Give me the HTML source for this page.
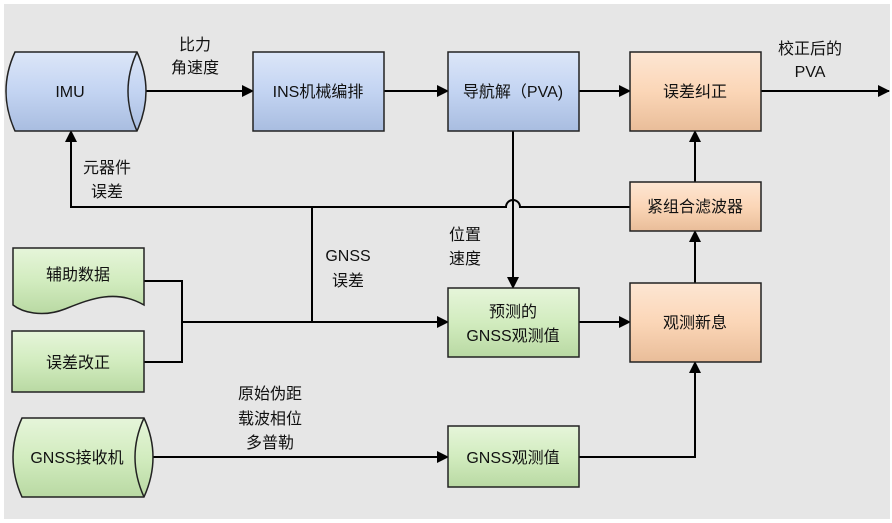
<!DOCTYPE html>
<html><head><meta charset="utf-8"><style>
html,body{margin:0;padding:0;background:#fff;}
svg{display:block;}
text{font-family:"Liberation Sans","Noto Sans CJK SC",sans-serif;font-size:16px;fill:#111;}
</style></head><body>
<svg width="892" height="523" viewBox="0 0 892 523" xmlns="http://www.w3.org/2000/svg">
<defs>
<marker id="a" markerWidth="12" markerHeight="12" refX="11" refY="6" orient="auto" markerUnits="userSpaceOnUse">
<path d="M0,0 L12,6 L0,12 Z" fill="#000"/></marker>
<linearGradient id="gb" x1="0" y1="0" x2="0" y2="1"><stop offset="0" stop-color="#dce6f8"/><stop offset="0.5" stop-color="#c3d4f2"/><stop offset="1" stop-color="#a9bde0"/></linearGradient>
<linearGradient id="gg" x1="0" y1="0" x2="0" y2="1"><stop offset="0" stop-color="#e6f5da"/><stop offset="0.5" stop-color="#d2ecbf"/><stop offset="1" stop-color="#b9d9a3"/></linearGradient>
<linearGradient id="go" x1="0" y1="0" x2="0" y2="1"><stop offset="0" stop-color="#fde6d3"/><stop offset="0.5" stop-color="#fbd6b7"/><stop offset="1" stop-color="#e9bd99"/></linearGradient>
</defs>
<rect x="4" y="4" width="886" height="515" fill="#e6e6e6"/>

<g stroke="#000" stroke-width="2" fill="none">
<line x1="136" y1="91" x2="253" y2="91" marker-end="url(#a)"/>
<line x1="384" y1="91" x2="448" y2="91" marker-end="url(#a)"/>
<line x1="579" y1="91" x2="630" y2="91" marker-end="url(#a)"/>
<line x1="761" y1="91" x2="889" y2="91" marker-end="url(#a)"/>
<line x1="695" y1="182" x2="695" y2="131" marker-end="url(#a)"/>
<line x1="695" y1="283" x2="695" y2="231" marker-end="url(#a)"/>
<path d="M579,457 H695 V362" marker-end="url(#a)"/>
<line x1="579" y1="322" x2="630" y2="322" marker-end="url(#a)"/>
<line x1="513" y1="131" x2="513" y2="288" marker-end="url(#a)"/>
<path d="M630,207 H520 A7,7 0 0 0 506,207 H71 V131" marker-end="url(#a)"/>
<line x1="312" y1="207" x2="312" y2="322"/>
<path d="M144,281 H182 V362 H144"/>
<line x1="182" y1="322" x2="448" y2="322" marker-end="url(#a)"/>
<line x1="153" y1="457" x2="448" y2="457" marker-end="url(#a)"/>
</g>

<path d="M15,52 H137 Q155,91 137,131 H15 Q-3,91 15,52 Z" fill="url(#gb)" stroke="#222" stroke-width="1.5"/>
<path d="M137,52 Q119,91 137,131" fill="none" stroke="#222" stroke-width="1.5"/>
<text x="70" y="97" text-anchor="middle">IMU</text>

<path d="M22,418 H144 Q162,457 144,497 H22 Q4,457 22,418 Z" fill="url(#gg)" stroke="#222" stroke-width="1.5"/>
<path d="M144,418 Q126,457 144,497" fill="none" stroke="#222" stroke-width="1.5"/>
<text x="77" y="463" text-anchor="middle">GNSS接收机</text>

<path d="M13,248 H144 V305 C115,288 88,300 65,309 C42,318 22,312 13,305 Z" fill="url(#gg)" stroke="#222" stroke-width="1.5"/>
<text x="78" y="280" text-anchor="middle">辅助数据</text>

<g stroke="#222" stroke-width="1.5">
<rect x="12" y="331" width="132" height="61" fill="url(#gg)"/>
<rect x="253" y="52" width="131" height="79" fill="url(#gb)"/>
<rect x="448" y="52" width="131" height="79" fill="url(#gb)"/>
<rect x="630" y="52" width="131" height="79" fill="url(#go)"/>
<rect x="630" y="182" width="131" height="49" fill="url(#go)"/>
<rect x="630" y="283" width="131" height="79" fill="url(#go)"/>
<rect x="448" y="288" width="131" height="69" fill="url(#gg)"/>
<rect x="448" y="426" width="131" height="61" fill="url(#gg)"/>
</g>
<text x="78" y="368" text-anchor="middle">误差改正</text>
<text x="318" y="97" text-anchor="middle">INS机械编排</text>
<text x="513" y="97" text-anchor="middle">导航解（PVA)</text>
<text x="695" y="97" text-anchor="middle">误差纠正</text>
<text x="695" y="212" text-anchor="middle">紧组合滤波器</text>
<text x="695" y="328" text-anchor="middle">观测新息</text>
<text x="513" y="317" text-anchor="middle">预测的</text>
<text x="513" y="341" text-anchor="middle">GNSS观测值</text>
<text x="513" y="463" text-anchor="middle">GNSS观测值</text>

<text x="195" y="50" text-anchor="middle">比力</text>
<text x="195" y="73" text-anchor="middle">角速度</text>
<text x="107" y="173" text-anchor="middle">元器件</text>
<text x="107" y="197" text-anchor="middle">误差</text>
<text x="348" y="261" text-anchor="middle">GNSS</text>
<text x="348" y="286" text-anchor="middle">误差</text>
<text x="465" y="240" text-anchor="middle">位置</text>
<text x="465" y="264" text-anchor="middle">速度</text>
<text x="270" y="399" text-anchor="middle">原始伪距</text>
<text x="270" y="424" text-anchor="middle">载波相位</text>
<text x="270" y="448" text-anchor="middle">多普勒</text>
<text x="810" y="54" text-anchor="middle">校正后的</text>
<text x="810" y="77" text-anchor="middle">PVA</text>
</svg>
</body></html>
